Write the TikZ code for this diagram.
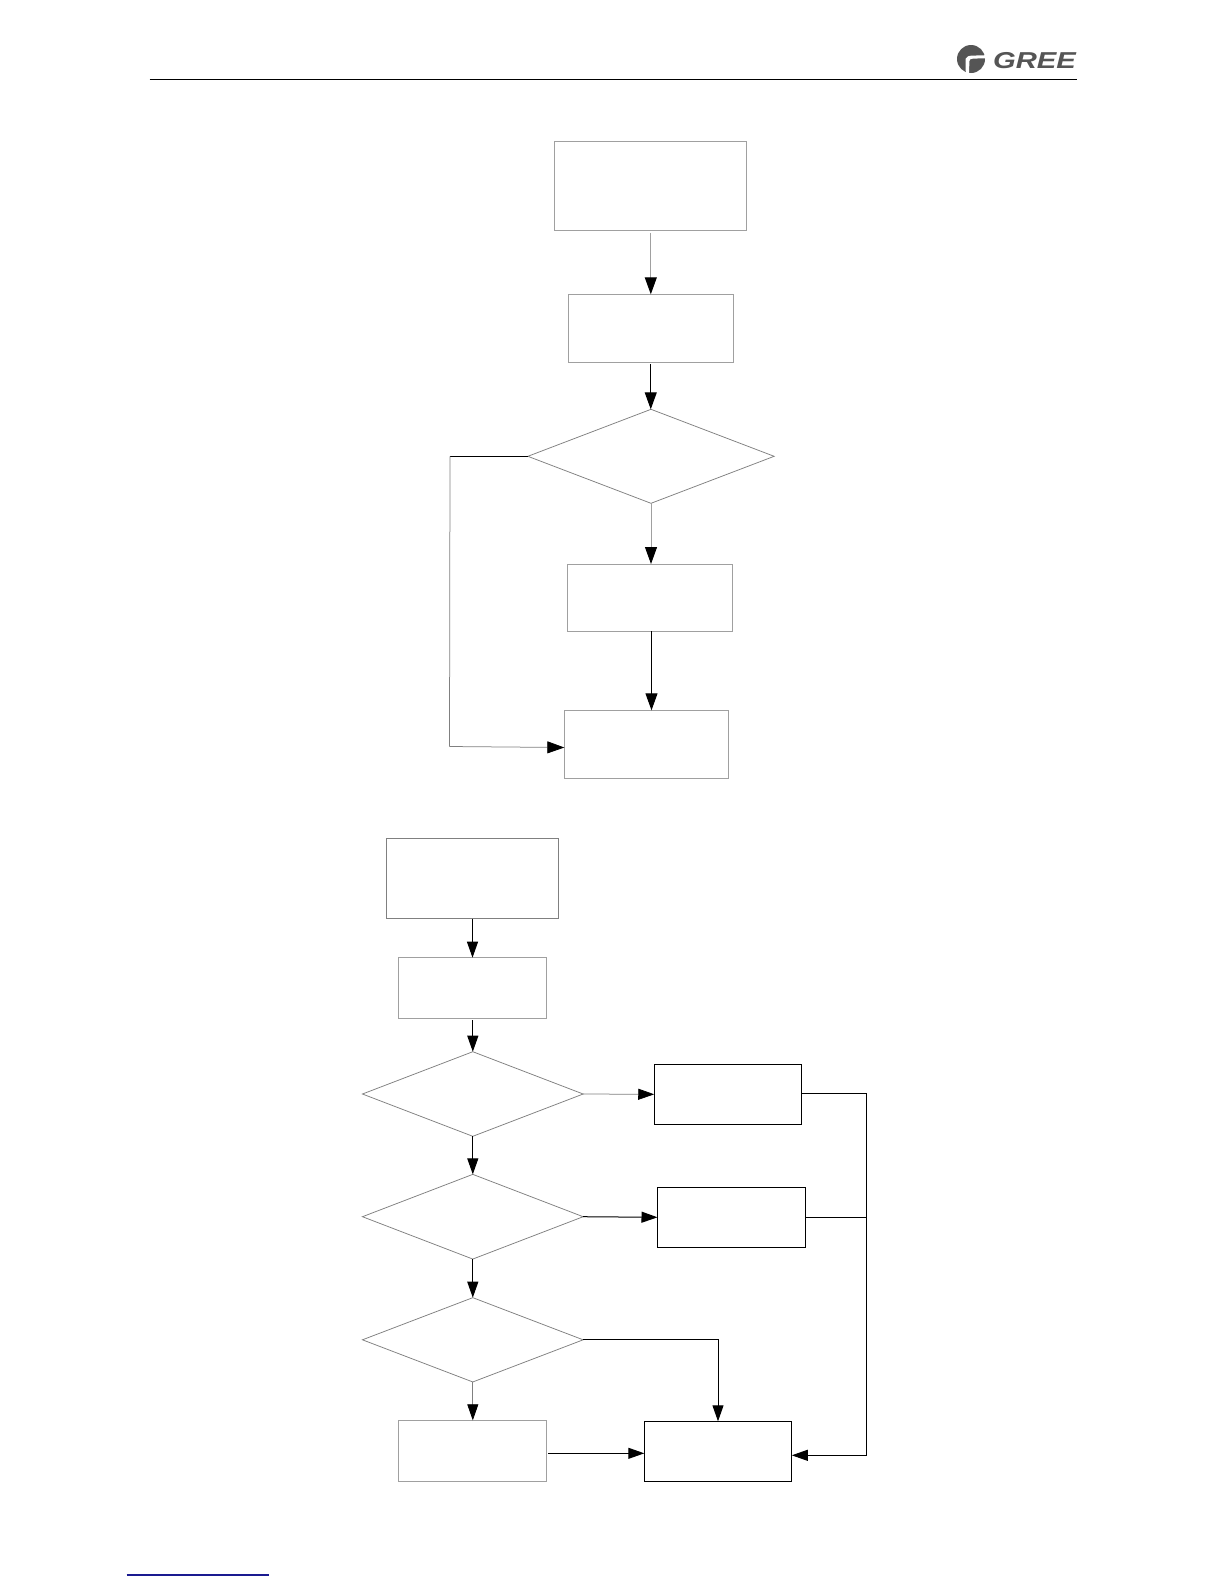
\documentclass[tikz,border=0pt]{standalone}
\usepackage{fontspec}
\setmainfont{Liberation Sans}
\usetikzlibrary{arrows.meta,shapes.geometric}
\definecolor{lg}{HTML}{A0A0A0}
\definecolor{dg}{HTML}{808080}
\definecolor{logo}{HTML}{555555}
\definecolor{navy}{HTML}{1A1A90}
\tikzset{
  x=0.6pt,y=-0.6pt,
  every node/.style={inner sep=0pt,outer sep=0pt},
  lightbox/.style={draw=lg,line width=0.6pt,rectangle},
  blackbox/.style={draw=black,line width=0.6pt,rectangle},
  decision/.style={draw=dg,line width=0.45pt,diamond},
  sz/.style 2 args={minimum width=#1*0.6pt,minimum height=#2*0.6pt},
  big/.style={-{Triangle[length=10.2pt,width=7.2pt,color=black]}},
  small/.style={-{Triangle[length=9.6pt,width=6.6pt,color=black]}},
  wire/.style={line width=0.6pt,black},
  grey wire/.style={line width=0.6pt,lg},
  thin wire/.style={line width=0.45pt,dg}
}
\begin{document}
\begin{tikzpicture}
\useasboundingbox (0,0) rectangle (1224,1584);
\fill[white] (0,0) rectangle (1224,1584);
% header
\coordinate (hl) at (149.5,79.3);
\coordinate (hr) at (1076.7,79.3);
\draw[line width=0.6pt,black] (hl) -- (hr);
\coordinate (fl) at (126.7,1575);
\coordinate (fr) at (269,1575);
\draw[line width=0.7pt,navy] (fl) -- (fr);
% logo
\fill[logo] (971,59) circle [radius=14];
\fill[white] (965.5,59) .. controls (966,56.5) and (969,55.6) .. (973,55.6) -- (986,55.2) -- (986,58.3) -- (973,58.6) .. controls (970.5,58.6) and (969.5,59.5) .. (969.4,61) -- (969,74) -- (965.8,74) -- cycle;
\node[font=\bfseries\itshape,text=logo,xscale=1.27] (gree) at (1034.5,60.8) {\fontsize{13.8pt}{14pt}\selectfont GREE};
% top chart
\node[lightbox,sz={191.7}{89}] (a1) at (650.8,185.8) {};
\node[lightbox,sz={164.5}{68}] (a2) at (650.75,328.3) {};
\node[decision,sz={246.3}{94}] (a3) at (651,456.3) {};
\node[lightbox,sz={164.7}{67.3}] (a4) at (649.65,597.65) {};
\node[lightbox,sz={164}{68}] (a5) at (646.3,744.3) {};
\coordinate (a4out) at (651.5,631.3);
\coordinate (a5in) at (651.5,710.3);
\coordinate (bendt) at (450,456.3);
\coordinate (bendb) at (449.5,746.5);
\coordinate (a5w) at (564.3,747.5);
\draw[grey wire,big,shorten <=1.6pt] (a1.south) -- (a1.south |- a2.north);
\draw[wire,big,shorten <=1.2pt] (a2.south) -- (a2.south |- a3.north);
\draw[grey wire,big] (a3.south) -- (a3.south |- a4.north);
\draw[wire,big] (a4out) -- (a5in);
\draw[wire] (a3.west) -- (bendt);
\draw[thin wire] (bendt) -- (bendb);
\draw[thin wire,big] (bendb) -- (a5w);
% bottom chart
\node[lightbox,draw=dg,sz={171.8}{80}] (b1) at (472.5,878.7) {};
\node[lightbox,sz={147.9}{61}] (b2) at (472.8,988.2) {};
\node[decision,sz={220.7}{84.6}] (d1) at (472.8,1094) {};
\node[blackbox,sz={147.5}{60}] (r1) at (728,1094.3) {};
\node[decision,sz={220.7}{84.7}] (d2) at (472.8,1216.7) {};
\node[blackbox,sz={148.2}{60}] (r2) at (731.6,1217.3) {};
\node[decision,sz={220.7}{84.3}] (d3) at (472.8,1339.8) {};
\node[lightbox,sz={147.9}{61}] (b3) at (472.8,1450.8) {};
\node[blackbox,sz={147.5}{60}] (r3) at (718,1451.3) {};
\coordinate (bus) at (866.4,1093.5);
\coordinate (busm) at (866.4,1217.3);
\coordinate (busb) at (866.4,1455.3);
\coordinate (r3e) at (791.8,1455.3);
\coordinate (b3out) at (548,1453.3);
\coordinate (r3w) at (644.3,1453.3);
\coordinate (turn) at (718,1339.8);
\draw[wire,small] (b1.south) -- (b1.south |- b2.north);
\draw[wire,small,shorten <=1pt] (b2.south) -- (b2.south |- d1.north);
\draw[wire,small] (d1.south) -- (d1.south |- d2.north);
\draw[wire,small] (d2.south) -- (d2.south |- d3.north);
\draw[thin wire,small] (d3.south) -- (d3.south |- b3.north);
\draw[thin wire,small] (d1.east) -- (r1.west);
\draw[wire,small] (d2.east) -- (r2.west);
\draw[wire,small] (d3.east) -- (turn) -- (r3.north);
\draw[wire,small] (b3out) -- (r3w);
\draw[wire] (r1.east |- bus) -- (bus) -- (busm);
\draw[wire] (r2.east) -- (busm);
\draw[wire,small] (busm) -- (busb) -- (r3e);
\end{tikzpicture}
\end{document}
